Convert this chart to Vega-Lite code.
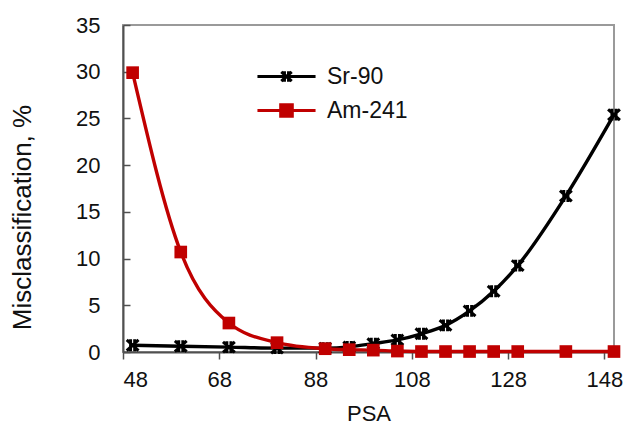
{
  "$schema": "https://vega.github.io/schema/vega-lite/v6.json",
  "width": 491,
  "height": 327,
  "autosize": "none",
  "padding": {"left": 123, "top": 25, "right": 10, "bottom": 75},
  "background": "white",
  "config": {
    "font": "Liberation Sans",
    "view": {"stroke": "#9a9a9a", "strokeWidth": 2},
    "axis": {
      "grid": false,
      "labelFont": "Liberation Sans",
      "labelFontSize": 22,
      "labelColor": "#111111",
      "titleFont": "Liberation Sans",
      "titleFontWeight": "normal",
      "titleColor": "#111111",
      "domainColor": "#505050",
      "domainWidth": 2,
      "tickColor": "#505050",
      "tickWidth": 1.5
    }
  },
  "data": {
    "values": [
      {"psa": 50, "series": "Sr-90", "value": 0.72},
      {"psa": 60, "series": "Sr-90", "value": 0.62},
      {"psa": 70, "series": "Sr-90", "value": 0.52},
      {"psa": 80, "series": "Sr-90", "value": 0.42},
      {"psa": 90, "series": "Sr-90", "value": 0.42},
      {"psa": 95, "series": "Sr-90", "value": 0.55},
      {"psa": 100, "series": "Sr-90", "value": 0.9},
      {"psa": 105, "series": "Sr-90", "value": 1.3},
      {"psa": 110, "series": "Sr-90", "value": 1.95},
      {"psa": 115, "series": "Sr-90", "value": 2.85},
      {"psa": 120, "series": "Sr-90", "value": 4.4},
      {"psa": 125, "series": "Sr-90", "value": 6.5},
      {"psa": 130, "series": "Sr-90", "value": 9.25},
      {"psa": 140, "series": "Sr-90", "value": 16.7},
      {"psa": 150, "series": "Sr-90", "value": 25.4},
      {"psa": 50, "series": "Am-241", "value": 29.9},
      {"psa": 60, "series": "Am-241", "value": 10.7},
      {"psa": 70, "series": "Am-241", "value": 3.1},
      {"psa": 80, "series": "Am-241", "value": 1.0},
      {"psa": 90, "series": "Am-241", "value": 0.35},
      {"psa": 95, "series": "Am-241", "value": 0.25},
      {"psa": 100, "series": "Am-241", "value": 0.2},
      {"psa": 105, "series": "Am-241", "value": 0.1},
      {"psa": 110, "series": "Am-241", "value": 0.05},
      {"psa": 115, "series": "Am-241", "value": 0.05},
      {"psa": 120, "series": "Am-241", "value": 0.05},
      {"psa": 125, "series": "Am-241", "value": 0.05},
      {"psa": 130, "series": "Am-241", "value": 0.05},
      {"psa": 140, "series": "Am-241", "value": 0.05},
      {"psa": 150, "series": "Am-241", "value": 0.05}
    ]
  },
  "encoding": {
    "x": {
      "field": "psa",
      "type": "quantitative",
      "scale": {"domain": [48, 150], "nice": false, "zero": false},
      "axis": {
        "title": "PSA",
        "titleFontSize": 22,
        "values": [48, 68, 88, 108, 128, 148],
        "tickSize": 7,
        "labelPadding": 10,
        "titlePadding": 13
      }
    },
    "y": {
      "field": "value",
      "type": "quantitative",
      "scale": {"domain": [0, 35], "nice": false},
      "axis": {
        "title": "Misclassification, %",
        "titleFontSize": 26,
        "titleY": 192,
        "values": [0, 5, 10, 15, 20, 25, 30, 35],
        "tickSize": -7,
        "labelPadding": 30,
        "titlePadding": 40
      }
    },
    "color": {
      "field": "series",
      "type": "nominal",
      "scale": {"domain": ["Sr-90", "Am-241"], "range": ["#000000", "#C00000"]},
      "legend": {
        "orient": "none",
        "legendX": 152,
        "legendY": 40,
        "title": null,
        "padding": 0,
        "symbolSize": 135,
        "symbolStrokeWidth": 3,
        "labelFontSize": 23,
        "labelColor": "#111111",
        "labelOffset": 29,
        "rowPadding": 9,
        "encode": {
          "symbols": {
            "update": {
              "shape": {"signal": "datum.value === 'Sr-90' ? 'M-5,0L5,0M-0.9,-0.8L0.9,0.8M-0.9,0.8L0.9,-0.8M-0.35,-0.9L-0.35,0.9M0.35,-0.9L0.35,0.9' : 'M-5,0L5,0M-1,-1L1,-1L1,1L-1,1Z'"},
              "fill": {"signal": "datum.value === 'Am-241' ? '#C00000' : 'transparent'"}
            }
          }
        }
      }
    }
  },
  "layer": [
    {
      "transform": [{"filter": "datum.series === 'Sr-90'"}],
      "mark": {"type": "line", "interpolate": "monotone", "strokeWidth": 3.4}
    },
    {
      "transform": [{"filter": "datum.series === 'Sr-90'"}],
      "mark": {"type": "point", "filled": false, "strokeWidth": 3, "size": 140, "opacity": 1,
        "shape": "M-1,-0.9L1,0.9M-1,0.9L1,-0.9M-0.35,-1L-0.35,1M0.35,-1L0.35,1"}
    },
    {
      "transform": [{"filter": "datum.series === 'Am-241'"}],
      "mark": {"type": "line", "interpolate": "monotone", "strokeWidth": 3.4}
    },
    {
      "transform": [{"filter": "datum.series === 'Am-241'"}],
      "mark": {"type": "point", "filled": true, "shape": "square", "size": 160, "opacity": 1}
    }
  ]
}
